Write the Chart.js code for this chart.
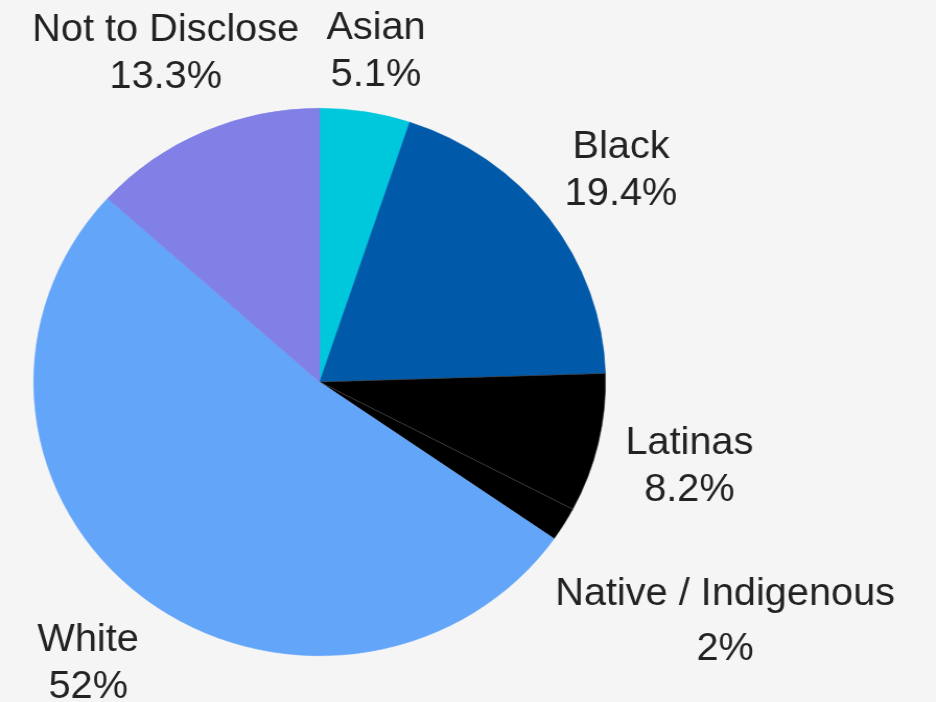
<!DOCTYPE html>
<html>
<head>
<meta charset="utf-8">
<script src="https://cdn.jsdelivr.net/npm/chart.js@4"></script>
<style>
  html, body { margin: 0; padding: 0; background: #f5f5f5; overflow: hidden; }
  #wrap { width: 896px; height: 702px; transform: scaleX(1.0446); transform-origin: 0 0; }
</style>
</head>
<body>
<div id="wrap"><canvas id="pie" width="896" height="702"></canvas></div>
<script>
const groups = ["Asian", "Black", "Latinas", "Native / Indigenous", "White", "Not to Disclose"]
const shares = [5.1, 19.4, 8.2, 2, 52, 13.3]
const shareLabels = ["5.1%", "19.4%", "8.2%", "2%", "52%", "13.3%"]
const sliceColors = ["#00c8dc", "#0059a9", "#000000", "#000000", "#63a5f9", "#8080e6"]

// draws "name / percent" outside each slice, along the slice's mid angle
const outsideLabels = {
    id: "outsideLabels",
    afterDatasetsDraw(chart, args, opts) {
        const ctx = chart.ctx
        const meta = chart.getDatasetMeta(0)
        ctx.save()
        ctx.font = opts.font
        ctx.fillStyle = opts.color
        ctx.textAlign = "center"
        ctx.textBaseline = "middle"
        meta.data.forEach((arc, i) => {
            const p = arc.getProps(["x", "y", "startAngle", "endAngle", "outerRadius"], true)
            const mid = (p.startAngle + p.endAngle) / 2
            const d = p.outerRadius * opts.distance[i]
            const cx = p.x + Math.cos(mid) * d
            const cy = p.y + Math.sin(mid) * d + opts.shiftY
            const gap = opts.gap[i] / 2
            ctx.fillText(groups[i], cx, cy - gap)
            ctx.fillText(shareLabels[i], cx, cy + gap)
        })
        ctx.restore()
    }
}

new Chart(document.getElementById("pie"), {
    type: "pie",
    data: {
        labels: groups,
        datasets: [{
            data: shares,
            backgroundColor: sliceColors,
            borderColor: ["#00c8dc", "#0059a9", "#3a3a3a", "#3a3a3a", "#63a5f9", "#8080e6"],
            borderWidth: 0.6
        }]
    },
    options: {
        responsive: false,
        animation: false,
        layout: { padding: { left: 32, top: 108, right: 316, bottom: 46 } },
        plugins: {
            legend: { display: false },
            tooltip: { enabled: false },
            outsideLabels: {
                font: "38px 'Liberation Sans', Arial, sans-serif",
                color: "#222",
                shiftY: 4,
                distance: [1.235, 1.315, 1.327, 1.66, 1.30, 1.327],
                gap: [47, 47, 47, 55, 47, 47]
            }
        }
    },
    plugins: [outsideLabels]
})
</script>
</body>
</html>
